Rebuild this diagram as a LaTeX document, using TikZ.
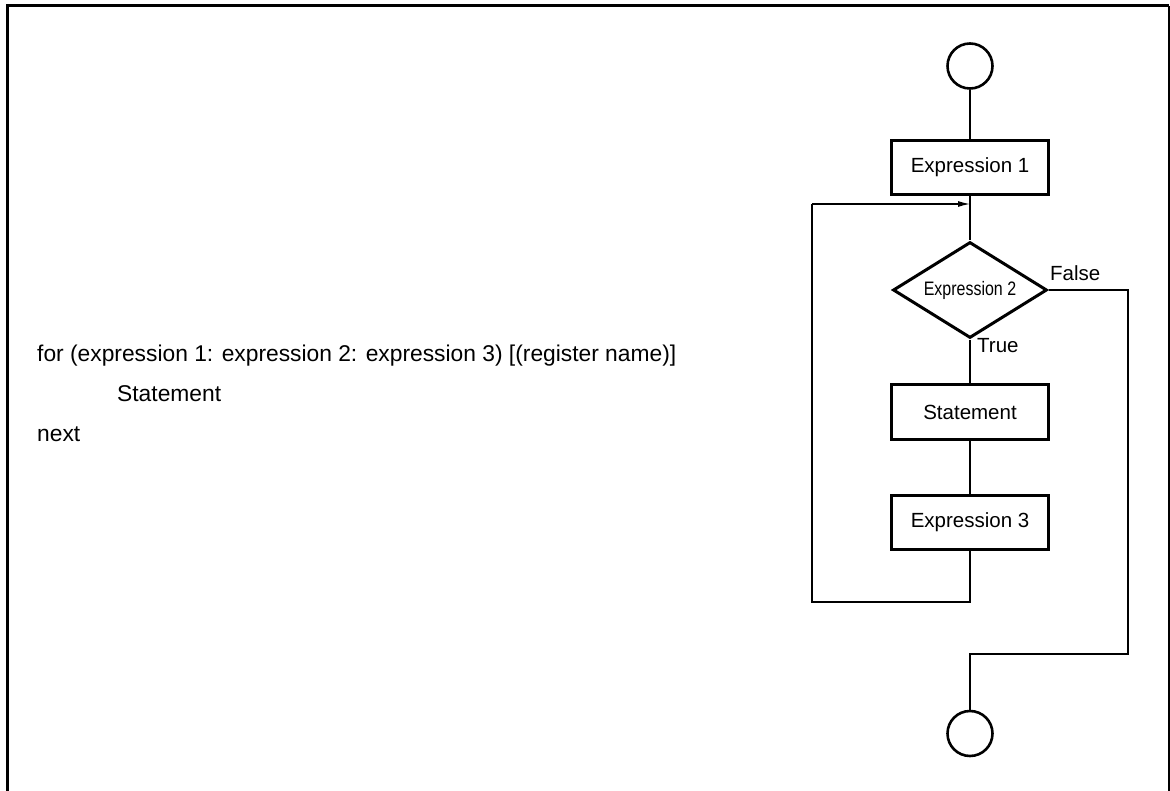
\documentclass[tikz,border=0pt]{standalone}
\usepackage{fontspec}
\setmainfont{Liberation Sans}
\usetikzlibrary{shapes.geometric,arrows.meta}

\begin{document}
\begin{tikzpicture}[x=1pt,y=-1pt,
  flow/.style={line width=1.3pt},
  procbox/.style={draw,line width=3pt,rectangle,minimum width=157pt,minimum height=54pt,
    inner sep=0pt,font=\fontsize{20.5}{24}\selectfont},
  terminal/.style={draw,line width=2.6pt,circle,minimum size=45pt,inner sep=0pt},
  decision/.style={draw,line width=3pt,diamond,aspect=1.6,minimum width=154pt,
    minimum height=96pt,inner sep=0pt},
  lbl/.style={inner sep=0pt,font=\fontsize{20.5}{24}\selectfont},
  code/.style={inner sep=0pt,anchor=base west,font=\fontsize{22.8}{27}\selectfont}]

\useasboundingbox (0,0) rectangle (1170,791);

% outer frame
\draw[line width=3pt] (7,791) -- (7,6) -- (1169,6);
\draw[line width=1.5pt] (1169,6) -- (1169,791);

% syntax of the for statement
\node[code] (l1) at (37,362) {for (expression 1: expression 2: expression 3) [(register name)]};
\node[code] (l2) at (117,402) {Statement};
\node[code] (l3) at (37,441) {next};

% flowchart
\node[terminal] (start) at (970,66) {};
\node[procbox] (e1) at (970,167.5) {Expression 1};
\node[decision] (e2) at (970,290) {\scalebox{0.82}[1]{\fontsize{19.5}{23}\selectfont Expression 2}};
\node[procbox] (st) at (970,412) {Statement};
\node[procbox] (e3) at (970,522) {Expression 3};
\node[terminal] (stop) at (970,733.5) {};

\coordinate (join) at (970,204);
\coordinate (loopa) at (970,602);
\coordinate (loopb) at (812,602);
\coordinate (loopc) at (812,204);
\coordinate (exitb) at (1128,654);
\coordinate (exitc) at (970,654);

\draw[flow] (start) -- (e1);
\draw[flow] (e1) -- (e2);
\draw[flow] (e2) -- (st);
\draw[flow] (st) -- (e3);
\draw[flow] (e3) -- (loopa) -- (loopb) -- (loopc);
\draw[flow,-{Latex[length=12pt,width=6pt]}] (loopc) -- (join);
\draw[flow] (e2.east) -| (exitb) -- (exitc) -- (stop);

\node[lbl,anchor=base west] (tlbl) at (977,353) {True};
\node[lbl,anchor=base west] (flbl) at (1050,281) {False};
\end{tikzpicture}
\end{document}
